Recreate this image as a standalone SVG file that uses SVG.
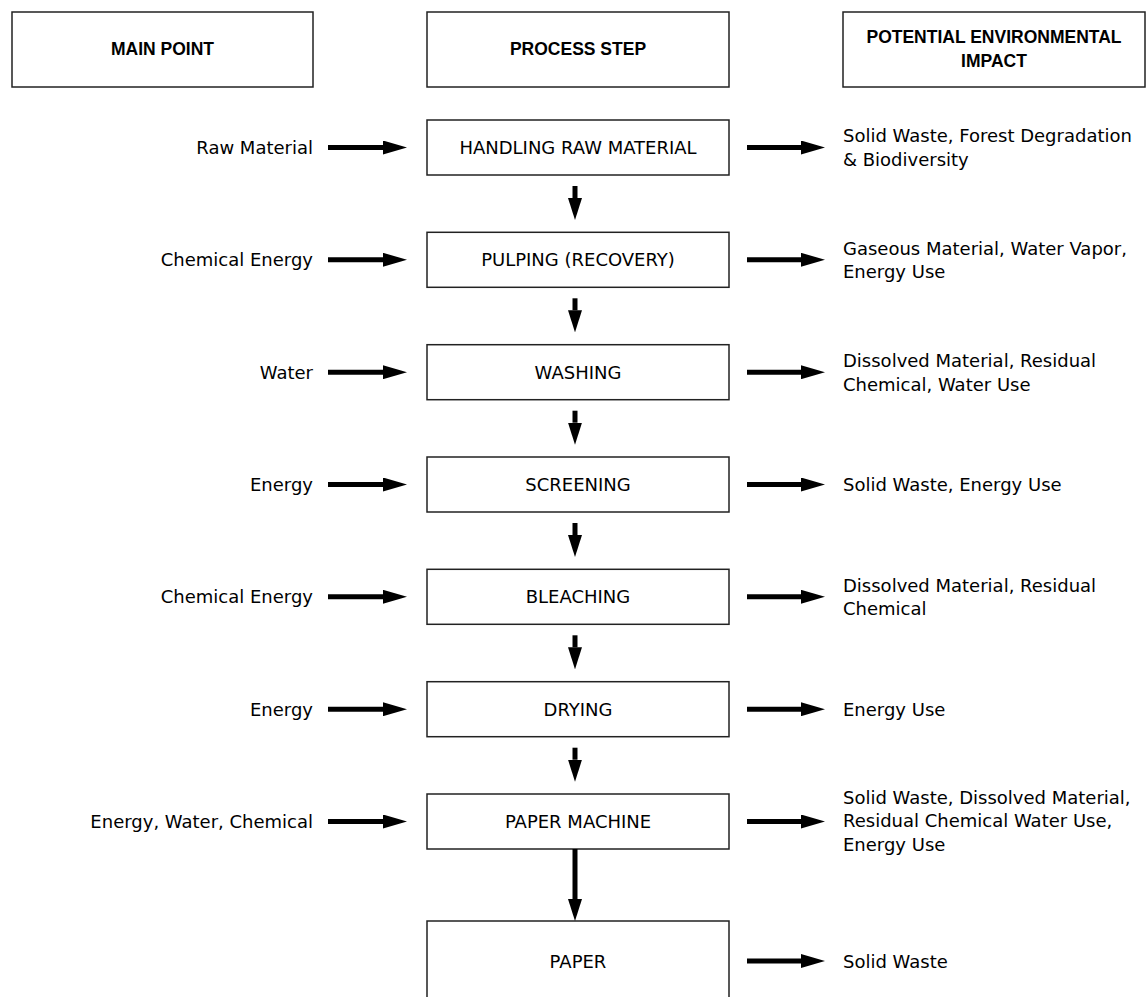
<svg xmlns="http://www.w3.org/2000/svg" width="1146" height="997" viewBox="0 0 1146 997">
<style>
.box{fill:#fff;stroke:#222;stroke-width:1.5}
.hd{font-family:"Liberation Sans",Arial,sans-serif;font-weight:bold;font-size:17.5px;fill:#000;text-anchor:middle}
.pt{font-family:"DejaVu Sans","Open Sans",sans-serif;font-size:18px;fill:#000;text-anchor:middle}
.lt{font-family:"DejaVu Sans","Open Sans",sans-serif;font-size:18px;fill:#000;text-anchor:end}
.rt{font-family:"DejaVu Sans","Open Sans",sans-serif;font-size:18px;fill:#000}
.ar{stroke:#000;stroke-width:5;fill:none;marker-end:url(#ah)}
.av{stroke:#000;stroke-width:5;fill:none;marker-end:url(#ahv)}
</style>
<defs>
<marker id="ah" markerUnits="userSpaceOnUse" markerWidth="24" markerHeight="14" viewBox="0 0 24 14" refX="0" refY="7" orient="auto"><path d="M0,0 L24,7 L0,14 z" fill="#000"/></marker>
<marker id="ahv" markerUnits="userSpaceOnUse" markerWidth="22" markerHeight="14" viewBox="0 0 22 14" refX="0" refY="7" orient="auto"><path d="M0,0 L22,7 L0,14 z" fill="#000"/></marker>
</defs>
<rect width="1146" height="997" fill="#fff"/>
<g id="h-main"><rect class="box" x="12" y="12" width="301" height="75"/><text class="hd" x="162.5" y="55">MAIN POINT</text></g>
<g id="h-process"><rect class="box" x="427" y="12" width="302" height="75"/><text class="hd" x="578" y="55">PROCESS STEP</text></g>
<g id="h-impact"><rect class="box" x="843" y="12" width="302" height="75"/><text class="hd" x="994" y="43">POTENTIAL ENVIRONMENTAL</text><text class="hd" x="994" y="67">IMPACT</text></g>

<g id="n1"><rect class="box" x="427" y="120" width="302" height="55"/><text class="pt" x="578" y="154">HANDLING RAW MATERIAL</text></g>
<g id="n2"><rect class="box" x="427" y="232.3" width="302" height="55"/><text class="pt" x="578" y="266.3">PULPING (RECOVERY)</text></g>
<g id="n3"><rect class="box" x="427" y="344.7" width="302" height="55"/><text class="pt" x="578" y="378.7">WASHING</text></g>
<g id="n4"><rect class="box" x="427" y="457" width="302" height="55"/><text class="pt" x="578" y="491">SCREENING</text></g>
<g id="n5"><rect class="box" x="427" y="569.3" width="302" height="55"/><text class="pt" x="578" y="603.3">BLEACHING</text></g>
<g id="n6"><rect class="box" x="427" y="681.7" width="302" height="55"/><text class="pt" x="578" y="715.7">DRYING</text></g>
<g id="n7"><rect class="box" x="427" y="794" width="302" height="55"/><text class="pt" x="578" y="828">PAPER MACHINE</text></g>
<g id="n8"><path class="box" d="M427,1000 V921 H729 V1000"/><text class="pt" x="578" y="968">PAPER</text></g>

<g id="in-labels">
<text class="lt" x="313" y="154">Raw Material</text>
<text class="lt" x="313" y="266.3">Chemical Energy</text>
<text class="lt" x="313" y="378.7">Water</text>
<text class="lt" x="313" y="491">Energy</text>
<text class="lt" x="313" y="603.3">Chemical Energy</text>
<text class="lt" x="313" y="715.7">Energy</text>
<text class="lt" x="313" y="828">Energy, Water, Chemical</text>
</g>
<g id="out-labels">
<text class="rt" x="843" y="142.3">Solid Waste, Forest Degradation</text>
<text class="rt" x="843" y="165.8">&amp; Biodiversity</text>
<text class="rt" x="843" y="254.6">Gaseous Material, Water Vapor,</text>
<text class="rt" x="843" y="278.1">Energy Use</text>
<text class="rt" x="843" y="367">Dissolved Material, Residual</text>
<text class="rt" x="843" y="390.5">Chemical, Water Use</text>
<text class="rt" x="843" y="491">Solid Waste, Energy Use</text>
<text class="rt" x="843" y="591.6">Dissolved Material, Residual</text>
<text class="rt" x="843" y="615.1">Chemical</text>
<text class="rt" x="843" y="715.7">Energy Use</text>
<text class="rt" x="843" y="803.5">Solid Waste, Dissolved Material,</text>
<text class="rt" x="843" y="827">Residual Chemical Water Use,</text>
<text class="rt" x="843" y="850.5">Energy Use</text>
<text class="rt" x="843" y="968">Solid Waste</text>
</g>

<g id="connectors">
<path class="ar" d="M328,147.5 H383"/>
<path class="ar" d="M328,259.8 H383"/>
<path class="ar" d="M328,372.2 H383"/>
<path class="ar" d="M328,484.5 H383"/>
<path class="ar" d="M328,596.8 H383"/>
<path class="ar" d="M328,709.2 H383"/>
<path class="ar" d="M328,821.5 H383"/>
<path class="ar" d="M747,147.5 H801"/>
<path class="ar" d="M747,259.8 H801"/>
<path class="ar" d="M747,372.2 H801"/>
<path class="ar" d="M747,484.5 H801"/>
<path class="ar" d="M747,596.8 H801"/>
<path class="ar" d="M747,709.2 H801"/>
<path class="ar" d="M747,821.5 H801"/>
<path class="ar" d="M747,961 H801"/>
<path class="av" d="M575,186 V198"/>
<path class="av" d="M575,298.3 V310.3"/>
<path class="av" d="M575,410.7 V422.7"/>
<path class="av" d="M575,523 V535"/>
<path class="av" d="M575,635.3 V647.3"/>
<path class="av" d="M575,747.7 V759.7"/>
<path class="av" d="M575,849 V899"/>
</g>
</svg>
